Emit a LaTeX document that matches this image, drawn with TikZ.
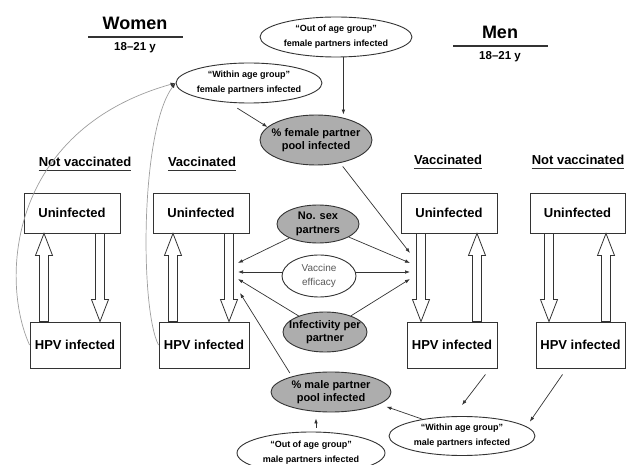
\documentclass[tikz,border=0pt]{standalone}
\usepackage{fontspec}
\setmainfont{Liberation Sans}
\usetikzlibrary{shapes.geometric,arrows.meta,calc}
\definecolor{poolgray}{gray}{0.68}
\definecolor{linegray}{gray}{0.2}
\definecolor{curvegray}{gray}{0.62}
\definecolor{softtext}{gray}{0.35}

\tikzset{
  box/.style={draw=linegray, line width=0.9pt, inner sep=0pt, font=\fontsize{13}{15}\selectfont\bfseries},
  heading/.style={anchor=base, inner sep=0pt, font=\fontsize{13}{15}\selectfont\bfseries},
  pool/.style={ellipse, draw=linegray, line width=0.9pt, fill=poolgray, inner xsep=-12pt, inner ysep=-5pt, align=center, font=\fontsize{11}{13.5}\selectfont\bfseries},
  group/.style={ellipse, draw=linegray, line width=0.9pt, fill=white, inner xsep=-12pt, inner ysep=-5pt, align=center, font=\fontsize{9}{15}\selectfont\bfseries},
  arr/.style={draw=linegray, line width=0.7pt, -{Latex[length=5pt,width=3.6pt]}},
  feedback/.style={draw=curvegray, line width=0.7pt, -{Latex[length=5pt,width=3.6pt,color=linegray]}},
  uline/.style={line width=1.6pt, draw=linegray},
  hollow/.style={draw=linegray, line width=0.8pt, fill=white,
    to path={let \p1=(\tikztostart), \p2=(\tikztotarget), \n1={(\y2>\y1) ? 1 : -1} in
      (\x1-4.5pt,\y1) -- (\x1-4.5pt,\y2-\n1*22pt) -- (\x1-8.5pt,\y2-\n1*22pt) -- (\x2,\y2)
      -- (\x1+8.5pt,\y2-\n1*22pt) -- (\x1+4.5pt,\y2-\n1*22pt) -- (\x1+4.5pt,\y1) -- cycle}},
}

\begin{document}
\begin{tikzpicture}[x=1pt, y=-1pt]
\useasboundingbox (0,0) rectangle (627,465);

% titles
\node[font=\fontsize{18}{20}\selectfont\bfseries] (women) at (135,23) {Women};
\draw[uline, line width=2pt] (88,37) -- (183,37);
\node[font=\fontsize{11.5}{13}\selectfont\bfseries] (wage) at (135,48) {18–21 y};
\node[font=\fontsize{18}{20}\selectfont\bfseries] (men) at (500,32) {Men};
\draw[uline, line width=2pt] (453,46) -- (548,46);
\node[font=\fontsize{11.5}{13}\selectfont\bfseries] (mage) at (500,57) {18–21 y};

% column headings
\node[heading] (wnv) at (85,167) {Not vaccinated};
\node[heading] (wvc) at (202,167) {Vaccinated};
\node[heading] (mvc) at (448,165) {Vaccinated};
\node[heading] (mnv) at (578,165) {Not vaccinated};
\draw[uline] ([yshift=-3.5pt]wnv.base west) -- ([yshift=-3.5pt]wnv.base east);
\draw[uline] ([yshift=-3.5pt]wvc.base west) -- ([yshift=-3.5pt]wvc.base east);
\draw[uline] ([yshift=-3.5pt]mvc.base west) -- ([yshift=-3.5pt]mvc.base east);
\draw[uline] ([yshift=-3.5pt]mnv.base west) -- ([yshift=-3.5pt]mnv.base east);

% compartments
\node[box, minimum width=96, minimum height=40] (wnu) at (72,213) {Uninfected};
\node[box, minimum width=90, minimum height=46] (wnh) at (75,345) {HPV infected};
\node[box, minimum width=96, minimum height=40] (wvu) at (201,213) {Uninfected};
\node[box, minimum width=90, minimum height=46] (wvh) at (204,345) {HPV infected};
\node[box, minimum width=96, minimum height=40] (mvu) at (449,213) {Uninfected};
\node[box, minimum width=90, minimum height=46] (mvh) at (452,345) {HPV infected};
\node[box, minimum width=95, minimum height=40] (mnu) at (577.5,213) {Uninfected};
\node[box, minimum width=89, minimum height=46] (mnh) at (580.5,345) {HPV infected};

% transitions
\coordinate (wnup) at (44,0);
\coordinate (wndn) at (100,0);
\coordinate (wvup) at (173,0);
\coordinate (wvdn) at (229,0);
\coordinate (mvdn) at (421,0);
\coordinate (mvup) at (477,0);
\coordinate (mndn) at (549,0);
\coordinate (mnup) at (606,0);
\draw[hollow] (wnh.north -| wnup) to (wnu.south -| wnup);
\draw[hollow] (wnu.south -| wndn) to (wnh.north -| wndn);
\draw[hollow] (wvh.north -| wvup) to (wvu.south -| wvup);
\draw[hollow] (wvu.south -| wvdn) to (wvh.north -| wvdn);
\draw[hollow] (mvu.south -| mvdn) to (mvh.north -| mvdn);
\draw[hollow] (mvh.north -| mvup) to (mvu.south -| mvup);
\draw[hollow] (mnu.south -| mndn) to (mnh.north -| mndn);
\draw[hollow] (mnh.north -| mnup) to (mnu.south -| mnup);

% partner pools
\node[group, minimum width=152, minimum height=40] (ofe) at (336,37) {“Out of age group”\\female partners infected};
\node[group, minimum width=146, minimum height=40] (wfw) at (249,83) {“Within age group”\\female partners infected};
\node[pool, minimum width=112, minimum height=50] (fpool) at (316,140) {\% female partner\\pool infected};
\node[pool, minimum width=82, minimum height=38] (nsp) at (318,224) {No. sex\\partners};
\node[group, minimum width=74, minimum height=42, font=\fontsize{10}{14}\selectfont, text=softtext] (vef) at (319,276) {Vaccine\\efficacy};
\node[pool, minimum width=84, minimum height=40] (inf) at (325,332) {Infectivity per\\partner};
\node[pool, minimum width=120, minimum height=40] (mpool) at (331,392) {\% male partner\\pool infected};
\node[group, minimum width=146, minimum height=39] (wmw) at (462,436) {“Within age group”\\male partners infected};
\node[group, minimum width=148, minimum height=42] (ome) at (311,453) {“Out of age group”\\male partners infected};

% force of infection
\coordinate (wt1) at (238,263);
\coordinate (wt2) at (238,272);
\coordinate (wt3) at (238,279);
\coordinate (wt4) at (240,293);
\coordinate (mt1) at (410,253);
\coordinate (mt2) at (410,263);
\coordinate (mt3) at (410,272);
\coordinate (mt4) at (410,279);
\draw[arr] (nsp) -- (wt1);
\draw[arr] (vef.west |- wt2) -- (wt2);
\draw[arr] (inf) -- (wt3);
\draw[arr] ([yshift=4pt]mpool.160) -- (wt4);
\draw[arr] ([yshift=-4pt]fpool.-40) -- (mt1);
\draw[arr] (nsp) -- (mt2);
\draw[arr] (vef.east |- mt3) -- (mt3);
\draw[arr] (inf) -- (mt4);

% pool inputs
\draw[arr] (ofe.-70) -- (ofe.-70 |- fpool.north);
\draw[arr] ([yshift=-5pt]wfw.-120) -- (fpool.165);
\draw[arr] ([shift={(-12pt,-6pt)}]mvh.south east) -- ([yshift=11pt]wmw.north);
\draw[arr] ([shift={(27pt,-6pt)}]mnh.south west) -- ([shift={(10pt,2pt)}]wmw.12);
\draw[arr] (wmw.157) -- ([shift={(8pt,-2pt)}]mpool.-15);
\draw[arr] ([shift={(5pt,4pt)}]ome.north) -- ([shift={(-15pt,-6pt)}]mpool.south);

% women feed the within-group pool
\draw[feedback] (wnh.west) .. controls (0,280) and (8,130) .. (wfw.west);
\draw[feedback] (wvh.west) .. controls (140,310) and (140,130) .. (wfw.west);

\end{tikzpicture}
\end{document}
